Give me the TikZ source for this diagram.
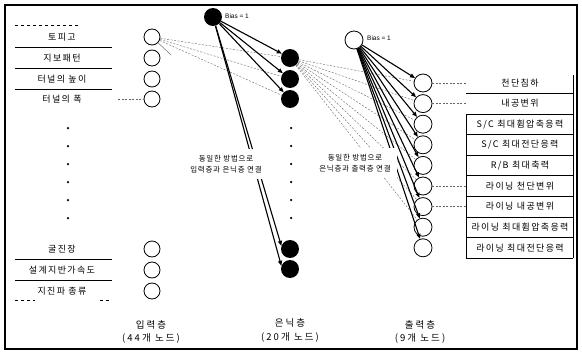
\documentclass[tikz,border=0pt]{standalone}
\usepackage{fontspec}
\setmainfont{Liberation Sans}
\newfontfamily\krA[LetterSpace=15]{Noto Sans CJK KR}
\newfontfamily\krB[LetterSpace=22]{Noto Sans CJK KR}
\newfontfamily\krC[LetterSpace=10]{Noto Sans CJK KR}
\usetikzlibrary{arrows.meta}
\begin{document}
\begin{tikzpicture}[x=1pt,y=-1pt,
  inode/.style={circle,draw,line width=0.8pt,minimum size=16pt,inner sep=0pt},
  onode/.style={circle,draw,line width=0.8pt,minimum size=18pt,inner sep=0pt},
  hnode/.style={circle,fill=black,minimum size=18pt,inner sep=0pt},
  lbl/.style={font=\krA\fontsize{9}{10}\selectfont,inner sep=0pt},
  layer/.style={font=\krB\fontsize{9.5}{11}\selectfont,inner sep=0pt},
  note/.style={font=\krC\fontsize{7.5}{11}\selectfont,align=center,fill=white,inner xsep=6pt,inner ysep=6pt},
  biaslbl/.style={font=\fontsize{6.5}{8}\selectfont,inner sep=0pt,anchor=west},
  wt/.style={-{Triangle[length=5pt,width=4pt]},line width=1.1pt},
  fan/.style={dash pattern=on 2pt off 1.5pt,line width=0.4pt,black!60},
  stub/.style={line width=0.35pt,black!70},
  rowrule/.style={line width=0.5pt},
  dotc/.style={circle,fill=black,inner sep=0pt,minimum size=2.5pt}]
\useasboundingbox (0,0) rectangle (582,356);
\draw[line width=1.2pt] (5,5) rectangle (577,349);

% input labels and rules
\draw[rowrule,dashed] (15,25) -- (80,25);
\foreach \yy in {47.5,68.5,89} \draw[rowrule] (15,\yy) -- (112,\yy);
\foreach \yy in {259.5,280.5} \draw[rowrule] (15,\yy) -- (112,\yy);
\draw[rowrule,dashed] (15,300) -- (35,300);
\draw[rowrule,dashed] (100,300) -- (110,300);
\node[lbl] (L1) at (62,37) {토피고};
\node[lbl] (L2) at (62,58) {지보패턴};
\node[lbl] (L3) at (62,79) {터널의 높이};
\node[lbl] (L4) at (62,99) {터널의 폭};
\node[lbl] (L5) at (62,249) {굴진장};
\node[lbl] (L6) at (62,270) {설계지반가속도};
\node[lbl] (L7) at (62,291) {지진파 종류};

% input nodes
\node[inode] (i1) at (152,37) {};
\node[inode] (i2) at (152,58) {};
\node[inode] (i3) at (152,79) {};
\node[inode] (i4) at (152,99) {};
\node[inode] (i5) at (152,249) {};
\node[inode] (i6) at (152,270) {};
\node[inode] (i7) at (152,291) {};
\coordinate (c4) at (118,99);
\draw[fan] (c4) -- (i4);

% dots
\foreach \yy in {128,146,164,182,200,218} {
  \node[dotc] at (68,\yy) {};
  \node[dotc] at (291,\yy) {};
}

% hidden nodes
\node[hnode] (hb) at (213,17) {};
\node[biaslbl] (hbl) at (225,16) {Bias = 1};
\node[hnode] (h1) at (290,58) {};
\node[hnode] (h2) at (290,79) {};
\node[hnode] (h3) at (290,99) {};
\node[hnode] (h4) at (290,249) {};
\node[hnode] (h5) at (290,269) {};

% output nodes
\node[onode] (ob) at (354,40) {};
\node[biaslbl] (obl) at (367,38) {Bias = 1};
\foreach \k/\lab [count=\n] in {83/{천단침하},103.6/{내공변위},124.2/{S/C 최대휨압축응력},144.8/{S/C 최대전단응력},165.4/{R/B 최대축력},186/{라이닝 천단변위},206.6/{라이닝 내공변위},227.2/{라이닝 최대휨압축응력},247.8/{라이닝 최대전단응력}} {
  \node[onode] (o\n) at (423,\k) {};
  \node[lbl] (ol\n) at (520,\k) {\lab};
}
% output table
\draw[rowrule] (573,75) -- (573,258);
\draw[rowrule] (466,114) -- (466,258);
\foreach \yy in {93.3,113.9,134.5,155.1,175.7,196.3,216.9,237.5,258} \draw[rowrule] (466,\yy) -- (573,\yy);
\coordinate (t1) at (466,83);
\coordinate (t2) at (466,103.6);
\coordinate (t6) at (466,186);
\coordinate (t7) at (466,206.6);
\draw[fan] (o1) -- (t1);
\draw[fan] (o2) -- (t2);
\draw[fan] (o6) -- (t6);
\draw[fan] (o7) -- (t7);

% connections input -> hidden
\draw[fan] (i1) -- (h1);
\draw[fan] (i1) -- (h2);
\draw[fan] (i1) -- (h3);
\coordinate (st) at (171,55);
\draw[stub] (i1) -- (st);
\foreach \n in {1,2,3} \draw[wt] (hb) -- (h\n);
\draw[wt] (hb) -- (h4.160);
\draw[wt] (hb) -- (h5.160);

% hidden -> output
\foreach \n in {1,...,8} \draw[fan] (h1) -- (o\n);
\foreach \n in {1,...,9} \draw[wt] (ob) -- (o\n);

% notes
\node[note] (n1) at (226,164) {동일한 방법으로\\입력층과 은닉층 연결};
\node[note] (n2) at (355,163) {동일한 방법으로\\은닉층과 출력층 연결};

% layer labels
\node[layer] (ly1) at (151,325) {입력층};
\node[layer] (ly1b) at (151,339) {(44개 노드)};
\node[layer] (ly2) at (290,323) {은닉층};
\node[layer] (ly2b) at (290,338) {(20개 노드)};
\node[layer] (ly3) at (420,325) {출력층};
\node[layer] (ly3b) at (420,339) {(9개 노드)};
\end{tikzpicture}
\end{document}
